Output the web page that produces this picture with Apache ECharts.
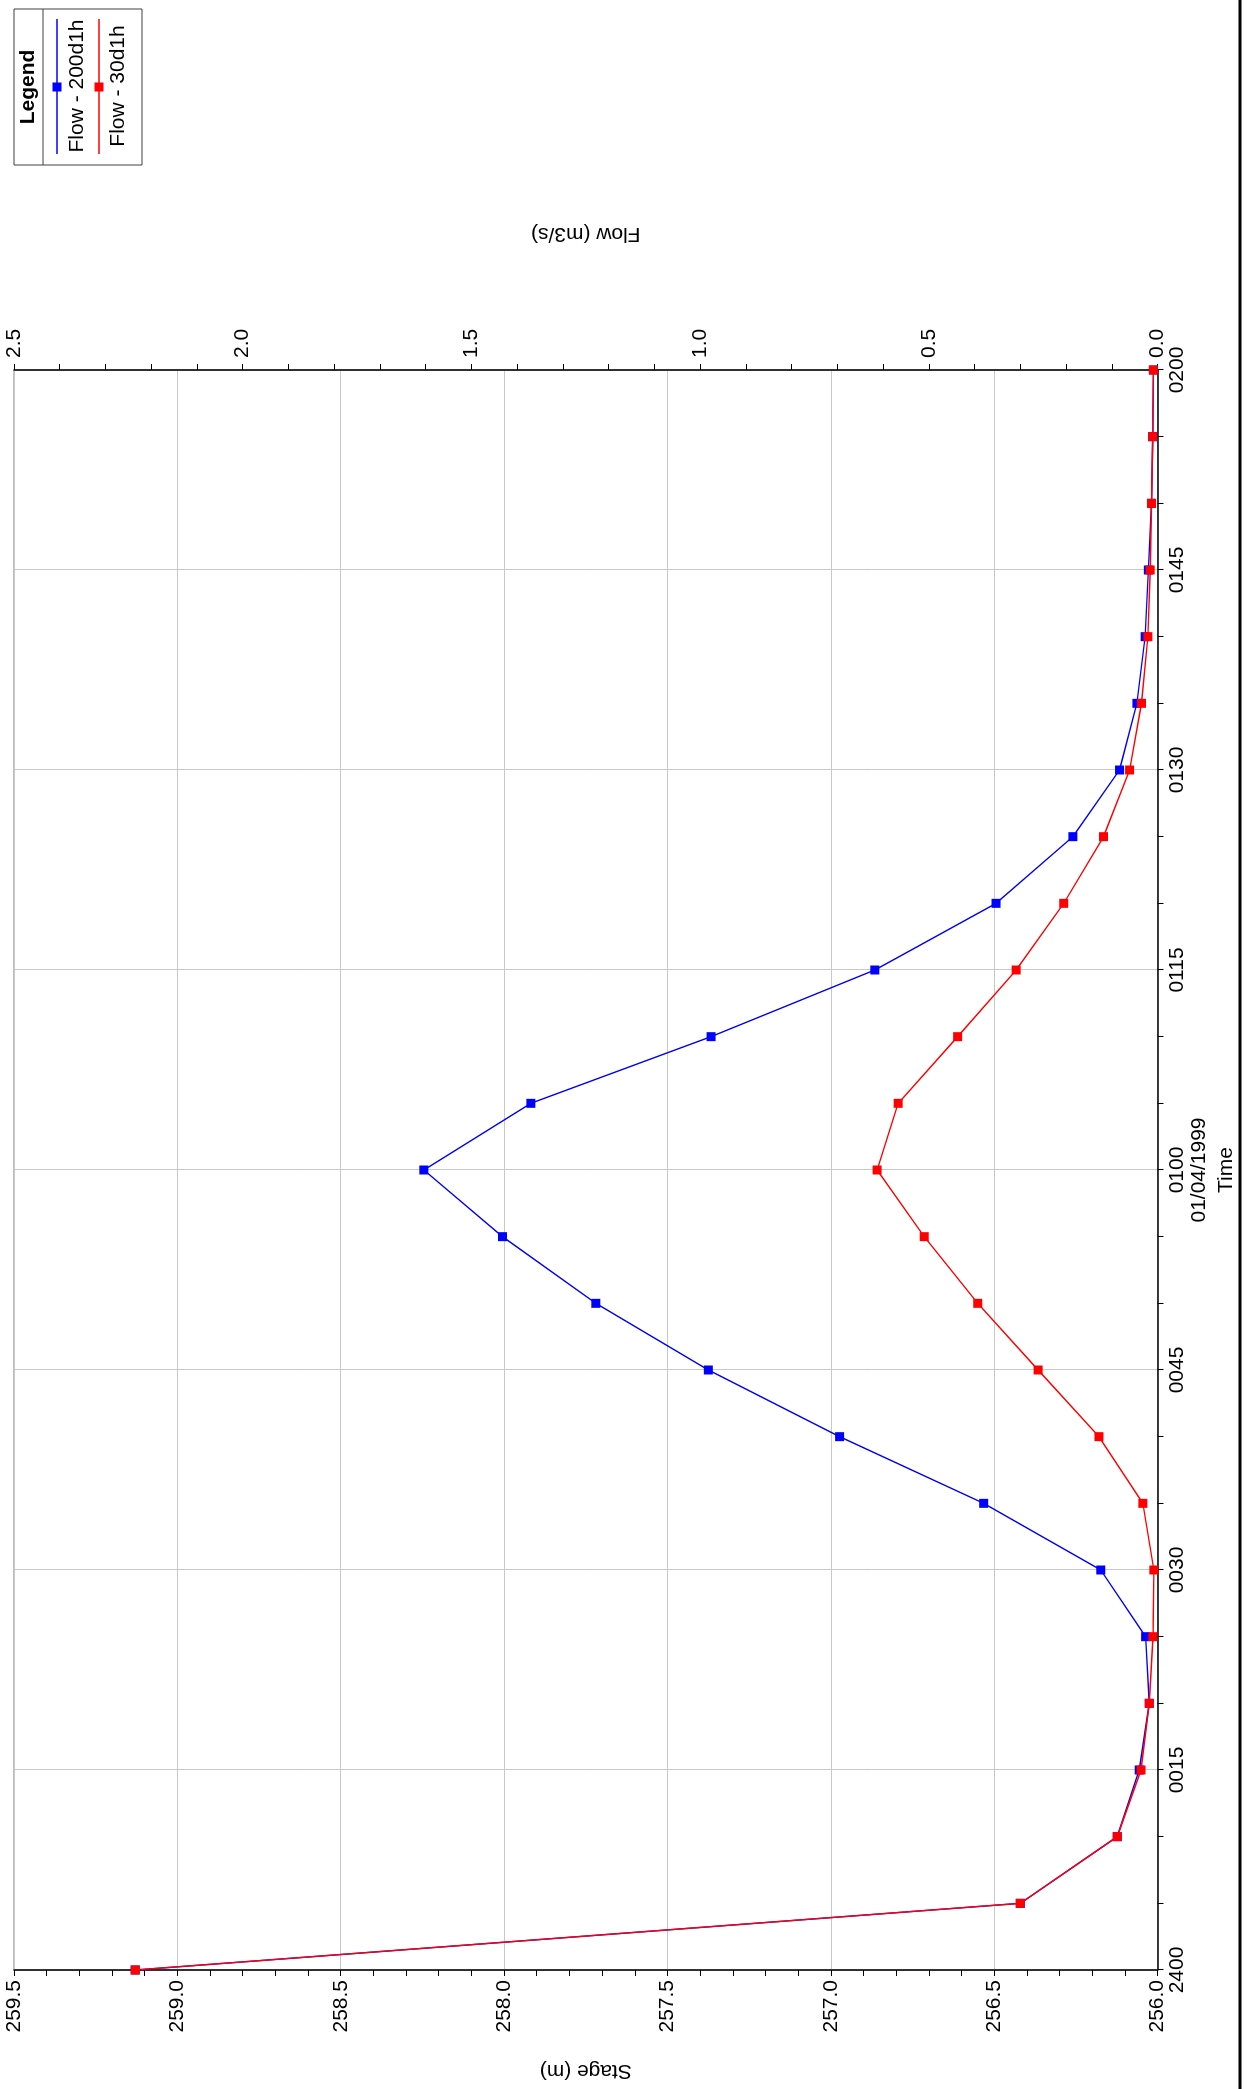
<!DOCTYPE html>
<html>
<head>
<meta charset="utf-8">
<script src="https://cdn.jsdelivr.net/npm/echarts@6/dist/echarts.min.js"></script>
<style>
html, body { margin:0; padding:0; overflow:hidden; background:#fff; width:1247px; height:2089px; }
#wrap { position:absolute; left:0; top:0; width:2089px; height:1247px; transform-origin:0 0; transform:translate(0px,2089px) rotate(-90deg); background:#fff; }
</style>
</head>
<body>
<div id="wrap"></div>
<script>
// minutes after 2400 on 01/04/1999
const minutes = [0,5,10,15,20,25,30,35,40,45,50,55,60,65,70,75,80,85,90,95,100,105,110,115,120];
const timeTickLabels = ['2400','0015','0030','0045','0100\n01/04/1999','0115','0130','0145','0200'];
const flow200d1h = [2.235,0.300,0.088,0.040,0.018,0.026,0.124,0.380,0.695,0.982,1.228,1.432,1.604,1.370,0.976,0.618,0.353,0.185,0.083,0.045,0.027,0.020,0.013,0.0105,0.009];
const flow30d1h  = [2.235,0.300,0.088,0.036,0.018,0.010,0.008,0.032,0.128,0.261,0.393,0.510,0.613,0.567,0.437,0.309,0.205,0.118,0.061,0.035,0.021,0.016,0.013,0.0105,0.009];
const seriesNames = ['Flow - 200d1h','Flow - 30d1h'];
const seriesColors = ['#0000ff','#ff0000'];

const FONT = 'Liberation Sans, Arial, sans-serif';
const FS = 21;
const chart = echarts.init(document.getElementById('wrap'), null, {renderer:'canvas'});

const pairs = a => minutes.map((m,i)=>[m,a[i]]);

const G = {left:116, top:14, width:1603, height:1143.5};

function legendGraphics(){
  const x0=1924, y0=14, w=156, h=128;
  const els = [
    {type:'rect', shape:{x:x0,y:y0,width:w,height:h}, style:{fill:'#fff', stroke:'#404040', lineWidth:1}, z:100},
    {type:'line', shape:{x1:x0,y1:43,x2:x0+w,y2:43}, style:{stroke:'#404040', lineWidth:1}, z:101},
    {type:'text', x:2002, y:28.5, style:{text:'Legend', font:'bold 21px '+FONT, fill:'#000', align:'center', verticalAlign:'middle'}, z:101}
  ];
  const lineYs=[57,99], textYs=[77,118];
  seriesNames.forEach((n,i)=>{
    els.push({type:'line', shape:{x1:1935,y1:lineYs[i],x2:2070,y2:lineYs[i]}, style:{stroke:seriesColors[i], lineWidth:1.4}, z:101});
    els.push({type:'rect', shape:{x:1997.5,y:lineYs[i]-4.5,width:9,height:9}, style:{fill:seriesColors[i]}, z:102});
    els.push({type:'text', x:2003, y:textYs[i], style:{text:n, font:'21px '+FONT, fill:'#000', align:'center', verticalAlign:'middle'}, z:101});
  });
  els.push({type:'line', shape:{x1:0,y1:1240,x2:2089,y2:1240}, style:{stroke:'#000', lineWidth:3}, z:100});
  return els;
}

chart.setOption({
  animation:false,
  backgroundColor:'#fff',
  grid:{left:G.left, top:G.top, width:G.width, height:G.height, show:true, borderColor:'#808080', borderWidth:1, containLabel:false},
  xAxis:{
    type:'value', min:0, max:120, interval:15, position:'bottom',
    name:'Time', nameLocation:'middle', nameGap:55,
    nameTextStyle:{fontFamily:FONT, fontSize:FS, color:'#000', verticalAlign:'top'},
    axisLine:{show:true, lineStyle:{color:'#000', width:1.5}},
    axisTick:{show:true, length:6, lineStyle:{color:'#000', width:1}},
    minorTick:{show:true, splitNumber:3, length:6, lineStyle:{color:'#000', width:1}},
    axisLabel:{fontFamily:FONT, fontSize:FS, color:'#000', margin:9, lineHeight:22,
      formatter:v=>timeTickLabels[Math.round(v/15)]},
    splitLine:{show:true, lineStyle:{color:'#c8c8c8', width:1}}
  },
  yAxis:[
    {type:'value', min:256, max:259.5, interval:0.5, position:'left',
     name:'Stage (m)', nameLocation:'middle', nameGap:90, nameRotate:90,
     nameTextStyle:{fontFamily:FONT, fontSize:FS, color:'#000'},
     axisLine:{show:true, lineStyle:{color:'#000', width:1.5}},
     axisTick:{show:true, length:6, lineStyle:{color:'#000', width:1}},
     minorTick:{show:true, splitNumber:5, length:6, lineStyle:{color:'#000', width:1}},
     axisLabel:{fontFamily:FONT, fontSize:FS, color:'#000', margin:10, formatter:v=>v.toFixed(1)},
     splitLine:{show:true, lineStyle:{color:'#c8c8c8', width:1}}
    },
    {type:'value', min:0, max:2.5, interval:0.5, position:'right',
     name:'Flow (m3/s)', nameLocation:'middle', nameGap:126, nameRotate:90,
     nameTextStyle:{fontFamily:FONT, fontSize:FS, color:'#000'},
     axisLine:{show:true, lineStyle:{color:'#000', width:1.5}},
     axisTick:{show:true, length:6, lineStyle:{color:'#000', width:1}},
     minorTick:{show:true, splitNumber:5, length:6, lineStyle:{color:'#000', width:1}},
     axisLabel:{fontFamily:FONT, fontSize:FS, color:'#000', margin:12, formatter:v=>v.toFixed(1)},
     splitLine:{show:false}
    }
  ],
  series:[
    {name:seriesNames[0], type:'line', yAxisIndex:1, data:pairs(flow200d1h), symbol:'rect', symbolSize:9,
     itemStyle:{color:seriesColors[0]}, lineStyle:{color:seriesColors[0], width:1.4}, z:3},
    {name:seriesNames[1], type:'line', yAxisIndex:1, data:pairs(flow30d1h), symbol:'rect', symbolSize:9,
     itemStyle:{color:seriesColors[1]}, lineStyle:{color:seriesColors[1], width:1.4}, z:4}
  ],
  graphic:legendGraphics()
});
</script>
</body>
</html>
